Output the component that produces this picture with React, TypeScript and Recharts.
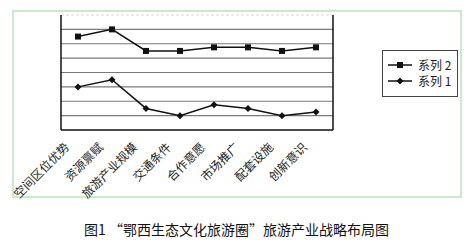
import React from 'react';
import { LineChart, Line, XAxis, YAxis, ReferenceLine } from 'recharts';

const categories = ['空间区位优势', '资源禀赋', '旅游产业规模', '交通条件', '合作意愿', '市场推广', '配套设施', '创新意识'];
const series2 = [6.5, 7, 5.5, 5.5, 5.75, 5.75, 5.5, 5.75];
const series1 = [3, 3.5, 1.5, 1, 1.75, 1.5, 1, 1.25];
const yTicks = [0, 1, 2, 3, 4, 5, 6, 7];
const gridValues = [1, 2, 3, 4, 5, 6, 7];
const boundaryTicks = [1, 2, 3, 4, 5, 6, 7];
const legendItems = [
  { key: 's2', label: '系列 2', shape: 'square' },
  { key: 's1', label: '系列 1', shape: 'diamond' },
];
const caption = '图1 “鄂西生态文化旅游圈”旅游产业战略布局图';

const data = categories.map((c, i) => ({ name: c, s1: series1[i], s2: series2[i] }));

const FONT = '"Noto Sans CJK SC", sans-serif';

const SquareDot = (props: any) => {
  const { cx, cy } = props;
  if (cx == null || cy == null) return null;
  return <rect x={cx - 3} y={cy - 3} width={6} height={6} fill="#111" />;
};

const DiamondDot = (props: any) => {
  const { cx, cy } = props;
  if (cx == null || cy == null) return null;
  return <path d={`M${cx},${cy - 3.5} L${cx + 3.5},${cy} L${cx},${cy + 3.5} L${cx - 3.5},${cy} Z`} fill="#111" />;
};

const RotTick = (props: any) => {
  const { x, y, payload } = props;
  return (
    <text
      x={x - 8}
      y={y + 18}
      transform={`rotate(-45 ${x - 8} ${y + 18})`}
      textAnchor="end"
      fontSize={12}
      fontFamily={FONT}
      fill="#222"
    >
      {payload.value}
    </text>
  );
};

const LegendBox = () => (
  <div
    style={{
      position: 'absolute',
      left: 382,
      top: 50,
      width: 74,
      height: 45,
      border: '1px solid #444',
      background: '#fff',
      fontFamily: FONT,
      fontSize: 12,
      color: '#222',
    }}
  >
    {legendItems.map((it, i) => (
      <div key={it.key} style={{ position: 'absolute', left: 5, top: 7 + i * 16, height: 14, display: 'flex', alignItems: 'center' }}>
        <svg width={24} height={14}>
          <line x1={0} y1={7} x2={24} y2={7} stroke="#111" strokeWidth={1.5} />
          {it.shape === 'square' ? (
            <rect x={9} y={4} width={6} height={6} fill="#111" />
          ) : (
            <path d="M12,3.5 L15.5,7 L12,10.5 L8.5,7 Z" fill="#111" />
          )}
        </svg>
        <span style={{ marginLeft: 6, whiteSpace: 'nowrap', lineHeight: '14px' }}>{it.label}</span>
      </div>
    ))}
  </div>
);

export default function App() {
  return (
    <div style={{ position: 'absolute', left: 0, top: 0, width: 473, height: 250, background: '#fff' }}>
      <div
        style={{
          position: 'absolute',
          left: 12,
          top: 10,
          width: 446,
          height: 184,
          border: '2px solid #cfe8cd',
        }}
      />
      <div style={{ position: 'absolute', left: 0, top: 0 }}>
        <LineChart width={473} height={250} data={data} margin={{ top: 15, left: 60, right: 139, bottom: 118 }}>
          <XAxis
            dataKey="name"
            height={1}
            padding={{ left: 17, right: 17 }}
            axisLine={{ stroke: '#111', strokeWidth: 1.5 }}
            tickLine={false}
            tickSize={0}
            tickMargin={0}
            interval={0}
            tick={<RotTick />}
          />
          <XAxis
            xAxisId="b"
            type="number"
            domain={[0, 8]}
            ticks={boundaryTicks}
            height={1}
            axisLine={false}
            tick={false}
            tickLine={{ stroke: '#111', strokeWidth: 1 }}
            tickSize={-5}
          />
          <YAxis
            domain={[0, 8]}
            ticks={yTicks}
            width={1}
            tick={false}
            tickLine={false}
            axisLine={{ stroke: '#111', strokeWidth: 1.5 }}
          />
          <YAxis
            yAxisId="r"
            orientation="right"
            domain={[0, 8]}
            ticks={yTicks}
            width={1}
            tick={false}
            tickLine={false}
            axisLine={{ stroke: '#111', strokeWidth: 1.5 }}
          />
          {gridValues.map((v) => (
            <ReferenceLine key={v} y={v} stroke="#7a7a7a" strokeWidth={1.2} />
          ))}
          <ReferenceLine y={8} stroke="#d8d8d8" strokeDasharray="3 2" />
          <Line dataKey="s2" stroke="#111" strokeWidth={1.5} dot={<SquareDot />} isAnimationActive={false} />
          <Line dataKey="s1" stroke="#111" strokeWidth={1.5} dot={<DiamondDot />} isAnimationActive={false} />
        </LineChart>
      </div>
      <LegendBox />
      <div
        style={{
          position: 'absolute',
          left: 0,
          width: 473,
          top: 220,
          textAlign: 'center',
          fontFamily: FONT,
          fontSize: 14,
          color: '#111',
          lineHeight: '18px',
          whiteSpace: 'nowrap',
        }}
      >
        {caption}
      </div>
    </div>
  );
}
